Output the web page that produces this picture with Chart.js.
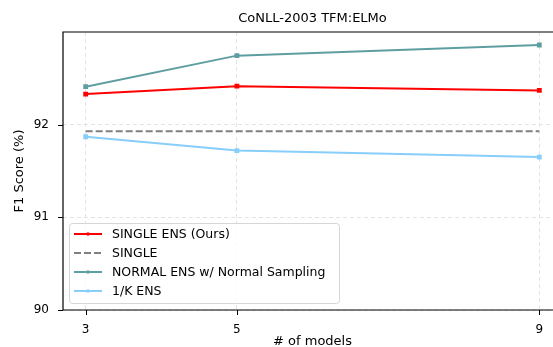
<!DOCTYPE html>
<html>
<head>
<meta charset="utf-8">
<script src="https://cdn.jsdelivr.net/npm/chart.js@4"></script>
<style>
  html, body { margin: 0; padding: 0; background: #fff; overflow: hidden; }
  #wrap { width: 568px; height: 347px; }
</style>
</head>
<body>
<div id="wrap"><canvas id="chart" width="568" height="347"></canvas></div>
<script>
const models = [3, 5, 9];
const singleEns = [92.33, 92.415, 92.37];
const single = [91.93, 91.93, 91.93];
const normalEns = [92.41, 92.745, 92.86];
const oneOverK = [91.87, 91.72, 91.65];
const yTicks = [90, 91, 92];

const FONT = "'DejaVu Sans', sans-serif";

function pts(vals) {
    return models.map((m, i) => ({ x: m, y: vals[i] }));
}

// frame + outward tick marks like matplotlib spines
const framePlugin = {
    id: "frame",
    afterDraw(chart) {
        const { ctx, chartArea: a, scales } = chart;
        ctx.save();
        ctx.strokeStyle = "#000";
        ctx.lineWidth = 1.2;
        ctx.beginPath();
        ctx.moveTo(a.right, a.top);
        ctx.lineTo(a.left, a.top);
        ctx.lineTo(a.left, a.bottom);
        ctx.lineTo(a.right, a.bottom);
        ctx.stroke();
        ctx.lineWidth = 1;
        ctx.beginPath();
        models.forEach(m => {
            const x = Math.round(scales.x.getPixelForValue(m)) + 0.5;
            ctx.moveTo(x, a.bottom);
            ctx.lineTo(x, a.bottom + 5);
        });
        yTicks.forEach(v => {
            const y = Math.round(scales.y.getPixelForValue(v)) + 0.5;
            ctx.moveTo(a.left, y);
            ctx.lineTo(a.left - 5, y);
        });
        ctx.stroke();
        ctx.restore();
    }
};

// legend box in the lower left corner of the plot
const legendPlugin = {
    id: "boxLegend",
    afterDraw(chart) {
        const { ctx, chartArea: a } = chart;
        const x0 = a.left + 6, w = 270, h = 80;
        const y0 = a.bottom - 7 - h;
        ctx.save();
        ctx.globalAlpha = 0.8;
        ctx.fillStyle = "#fff";
        ctx.strokeStyle = "#cccccc";
        ctx.lineWidth = 1;
        ctx.beginPath();
        ctx.roundRect(x0 + 0.5, y0 + 0.5, w, h, 3);
        ctx.fill();
        ctx.stroke();
        ctx.globalAlpha = 1;
        ctx.font = "12.5px " + FONT;
        ctx.textBaseline = "middle";
        chart.data.datasets.forEach((ds, i) => {
            const y = y0 + 11 + i * 19;
            ctx.strokeStyle = ds.borderColor;
            ctx.lineWidth = ds.borderWidth;
            ctx.setLineDash(ds.borderDash || []);
            ctx.beginPath();
            ctx.moveTo(x0 + 5, y);
            ctx.lineTo(x0 + 33, y);
            ctx.stroke();
            ctx.setLineDash([]);
            if (ds.pointRadius > 0) {
                ctx.fillStyle = ds.borderColor;
                ctx.beginPath();
                ctx.arc(x0 + 19, y, 1.8, 0, Math.PI * 2);
                ctx.fill();
            }
            ctx.fillStyle = "#000";
            ctx.fillText(ds.label, x0 + 43, y + 1);
        });
        ctx.restore();
    }
};

const ctx = document.getElementById("chart").getContext("2d");
new Chart(ctx, {
    type: "line",
    data: {
        datasets: [
            {
                label: "SINGLE ENS (Ours)",
                data: pts(singleEns),
                borderColor: "#ff0000",
                backgroundColor: "#ff0000",
                borderWidth: 2,
                pointRadius: 2,
                pointStyle: "rect"
            },
            {
                label: "SINGLE",
                data: pts(single),
                borderColor: "#808080",
                backgroundColor: "#808080",
                borderWidth: 2,
                borderDash: [7, 3],
                pointRadius: 0
            },
            {
                label: "NORMAL ENS w/ Normal Sampling",
                data: pts(normalEns),
                borderColor: "#5f9ea0",
                backgroundColor: "#5f9ea0",
                borderWidth: 2,
                pointRadius: 2,
                pointStyle: "rect"
            },
            {
                label: "1/K ENS",
                data: pts(oneOverK),
                borderColor: "#87cefa",
                backgroundColor: "#87cefa",
                borderWidth: 2,
                pointRadius: 2,
                pointStyle: "rect"
            }
        ]
    },
    options: {
        responsive: false,
        animation: false,
        layout: { padding: { left: 0, right: 4, top: 0, bottom: 0 } },
        plugins: {
            legend: { display: false },
            tooltip: { enabled: false },
            title: {
                display: true,
                fullSize: false, // center over the plot area, not the canvas
                text: "CoNLL-2003 TFM:ELMo",
                color: "#000",
                font: { family: FONT, size: 13, weight: "normal" },
                padding: { top: 11, bottom: 5.4 }
            }
        },
        scales: {
            x: {
                type: "linear",
                min: 2.7,
                max: 9.3,
                afterBuildTicks: s => { s.ticks = models.map(v => ({ value: v })); },
                afterFit: s => { s.height = 37; },
                grid: { color: "#dddddd", drawTicks: false, lineWidth: 0.8 },
                border: { display: false, dash: [4, 3] },
                ticks: { color: "#000", font: { family: FONT, size: 12 }, padding: 13 },
                title: {
                    display: true,
                    text: "# of models",
                    color: "#000",
                    font: { family: FONT, size: 13 },
                    padding: { top: 0, bottom: -2.3 }
                }
            },
            y: {
                min: 90,
                max: 93,
                afterBuildTicks: s => { s.ticks = yTicks.map(v => ({ value: v })); },
                afterFit: s => { s.width = 63; },
                grid: { color: "#dddddd", drawTicks: false, lineWidth: 0.8 },
                border: { display: false, dash: [4, 3] },
                ticks: { color: "#000", font: { family: FONT, size: 12 }, padding: 14 },
                title: {
                    display: true,
                    text: "F1 Score (%)",
                    color: "#000",
                    font: { family: FONT, size: 13 },
                    padding: { top: 12, bottom: 0 }
                }
            }
        }
    },
    plugins: [framePlugin, legendPlugin]
});
</script>
</body>
</html>
